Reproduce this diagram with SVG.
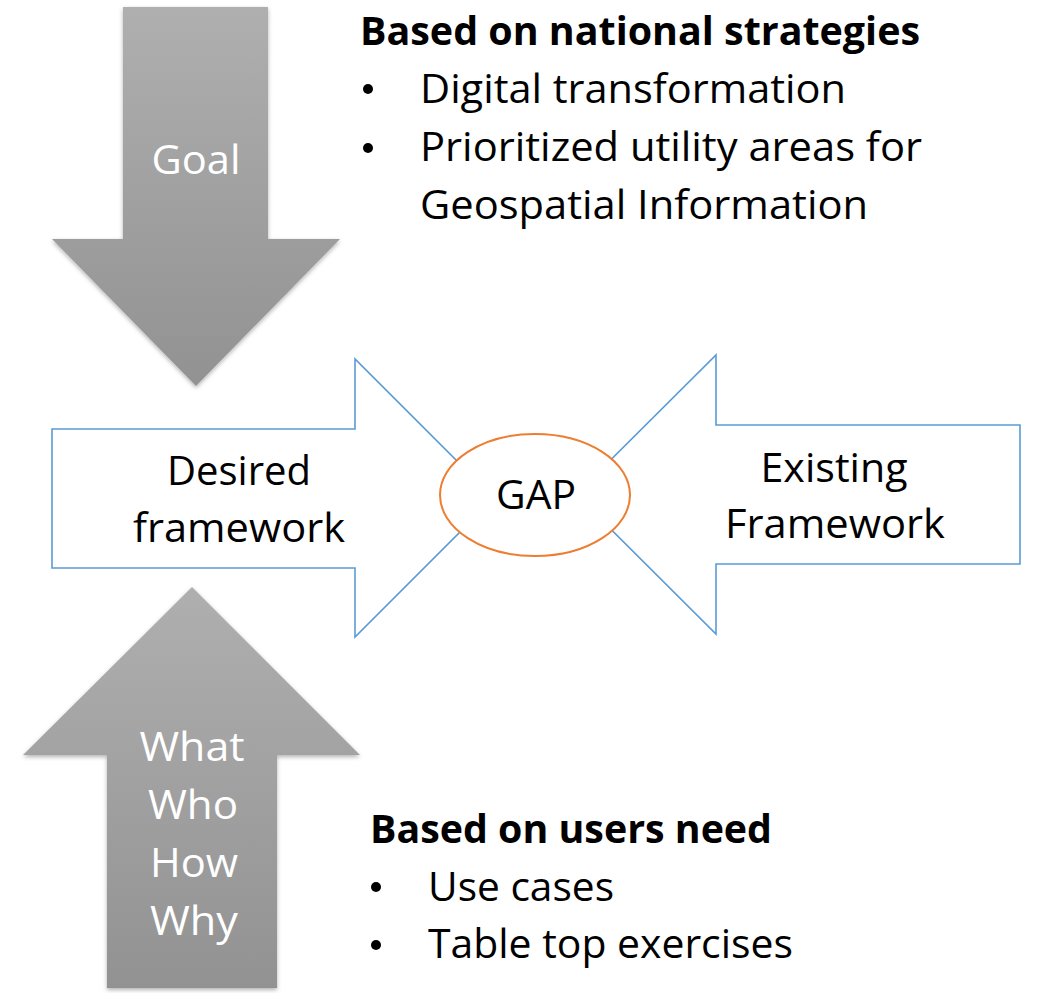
<svg xmlns="http://www.w3.org/2000/svg" width="1038" height="993" viewBox="0 0 1038 993">
<style>
.t{font-family:"Open Sans","Liberation Sans",sans-serif;font-size:40px;fill:#000}
.b{font-weight:bold}
.w{fill:#fff}
.m{text-anchor:middle}
.blue{fill:#fff;stroke:#5B9BD5;stroke-width:1.6}
.gap{fill:#fff;stroke:#ED7D31;stroke-width:2}
.gray{fill:url(#gg);filter:url(#sh)}
</style>
<defs>
<linearGradient id="gg" x1="0" y1="0" x2="0" y2="1">
<stop offset="0" stop-color="#afafaf"/>
<stop offset="1" stop-color="#929292"/>
</linearGradient>
<filter id="sh" x="-10%" y="-10%" width="120%" height="120%">
<feDropShadow dx="0" dy="2" stdDeviation="2" flood-color="#000" flood-opacity="0.3"/>
</filter>
</defs>
<rect width="1038" height="993" fill="#fff"/>
<g id="goal">
<polygon class="gray" points="123,7 268,7 268,239 340,239 196,386 52,239 123,239"/>
<text class="t w m" x="196" y="174" textLength="89" lengthAdjust="spacingAndGlyphs">Goal</text>
</g>
<g id="users">
<polygon class="gray" points="192,587 360,755 277,755 277,988 107,988 107,755 23,755"/>
<text class="t w m" x="192" y="761" textLength="105" lengthAdjust="spacingAndGlyphs">What</text>
<text class="t w m" x="193" y="819" textLength="90" lengthAdjust="spacingAndGlyphs">Who</text>
<text class="t w m" x="194" y="877" textLength="88" lengthAdjust="spacingAndGlyphs">How</text>
<text class="t w m" x="194" y="935" textLength="88" lengthAdjust="spacingAndGlyphs">Why</text>
</g>
<g id="desired">
<polygon class="blue" points="52,429 355,429 355,359 494,498 355,637 355,568 52,568"/>
<text class="t m" x="239" y="485" textLength="144" lengthAdjust="spacingAndGlyphs">Desired</text>
<text class="t m" x="239" y="542" textLength="212" lengthAdjust="spacingAndGlyphs">framework</text>
</g>
<g id="existing">
<polygon class="blue" points="1020,425 716,425 716,355 576,494.5 716,634 716,564 1020,564"/>
<text class="t m" x="834" y="482" textLength="147" lengthAdjust="spacingAndGlyphs">Existing</text>
<text class="t m" x="835" y="538" textLength="220" lengthAdjust="spacingAndGlyphs">Framework</text>
</g>
<g id="gap">
<ellipse class="gap" cx="535" cy="495" rx="95" ry="61"/>
<text class="t m" x="536" y="509" textLength="80" lengthAdjust="spacingAndGlyphs">GAP</text>
</g>
<g id="national">
<text class="t b" x="360" y="45" textLength="560" lengthAdjust="spacingAndGlyphs">Based on national strategies</text>
<circle cx="368" cy="89" r="5"/>
<text class="t" x="420" y="103" textLength="426" lengthAdjust="spacingAndGlyphs">Digital transformation</text>
<circle cx="368" cy="148" r="5"/>
<text class="t" x="420" y="161" textLength="502" lengthAdjust="spacingAndGlyphs">Prioritized utility areas for</text>
<text class="t" x="420" y="219" textLength="448" lengthAdjust="spacingAndGlyphs">Geospatial Information</text>
</g>
<g id="needs">
<text class="t b" x="370" y="843" textLength="402" lengthAdjust="spacingAndGlyphs">Based on users need</text>
<circle cx="376" cy="887" r="5"/>
<text class="t" x="428" y="901" textLength="186" lengthAdjust="spacingAndGlyphs">Use cases</text>
<circle cx="376" cy="945" r="5"/>
<text class="t" x="428" y="958" textLength="365" lengthAdjust="spacingAndGlyphs">Table top exercises</text>
</g>
</svg>
